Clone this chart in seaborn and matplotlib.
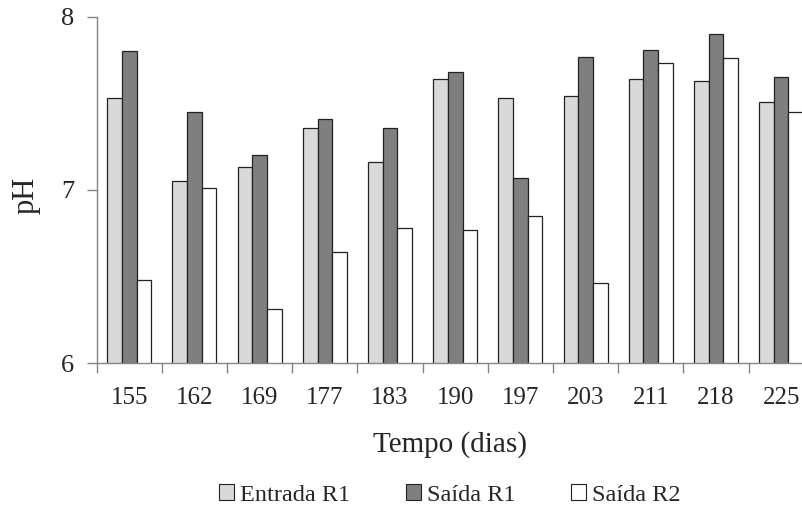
import matplotlib
matplotlib.use("Agg")
import matplotlib.pyplot as plt
import seaborn as sns
import pandas as pd
import numpy as np
from matplotlib.patches import Patch

days = ["155", "162", "169", "177", "183", "190", "197", "203", "211", "218", "225"]
entrada_r1 = [7.53, 7.05, 7.13, 7.36, 7.16, 7.64, 7.53, 7.54, 7.64, 7.63, 7.51]
saida_r1 = [7.80, 7.45, 7.20, 7.41, 7.36, 7.68, 7.07, 7.77, 7.81, 7.90, 7.65]
saida_r2 = [6.48, 7.01, 6.31, 6.64, 6.78, 6.77, 6.85, 6.46, 7.73, 7.76, 7.45]
series = ["Entrada R1", "Saída R1", "Saída R2"]
colors = ["#d9d9d9", "#7f7f7f", "#ffffff"]

df = pd.DataFrame({
    "Tempo": days * 3,
    "pH": entrada_r1 + saida_r1 + saida_r2,
    "Serie": [s for s in series for _ in days],
})

sns.set_style("white")
plt.rcParams["font.family"] = ["Liberation Serif", "DejaVu Serif"]

fig = plt.figure(figsize=(8.03, 5.08), dpi=100)
ax = fig.add_axes([0.1204, 0.2854, 0.893, 0.6817])

sns.barplot(data=df, x="Tempo", y="pH", hue="Serie", order=days, hue_order=series,
            palette=colors, width=0.675, edgecolor="#222222", linewidth=0.9,
            saturation=1, ax=ax, legend=False)

ax.set_ylim(6, 8)
ax.set_xlim(-0.5, 10.5)
ax.set_yticks([6, 7, 8])
ax.set_yticklabels(["6", "7", "8"])
for s in ["top", "right"]:
    ax.spines[s].set_visible(False)
for s in ["left", "bottom"]:
    ax.spines[s].set_color("#858585")
    ax.spines[s].set_linewidth(1.0)

ax.tick_params(axis="y", which="major", direction="out", length=7, width=1.0,
               color="#858585", labelsize=19, pad=9, left=True)
ax.tick_params(axis="x", which="major", length=0, labelsize=18, pad=17)
ax.set_xticks(np.arange(-0.5, 11, 1), minor=True)
ax.tick_params(axis="x", which="minor", direction="out", length=7, width=1.0,
               color="#858585", bottom=True)

ax.set_xlabel("Tempo (dias)", fontsize=21)
ax.set_ylabel("pH", fontsize=22)
# center x-label on the visible part of the axis
ax.xaxis.set_label_coords((450 - 96.7) / 717.0, -(452 - 363) / 346.0, transform=ax.transAxes)
ax.xaxis.label.set_va("baseline")
ax.yaxis.set_label_coords(-(96.7 - 34) / 717.0, (363 - 196) / 346.0, transform=ax.transAxes)
ax.yaxis.label.set_va("baseline")

handles = [Patch(facecolor=c, edgecolor="#222222", linewidth=0.8) for c in colors]
fig.legend(handles, series, loc="center", bbox_to_anchor=(450 / 803, 1 - 495 / 508), ncol=3,
           frameon=False, fontsize=17.5, handlelength=0.6, handleheight=0.6,
           handletextpad=0.25, columnspacing=2.3)

fig.savefig("out.png", dpi=100)
